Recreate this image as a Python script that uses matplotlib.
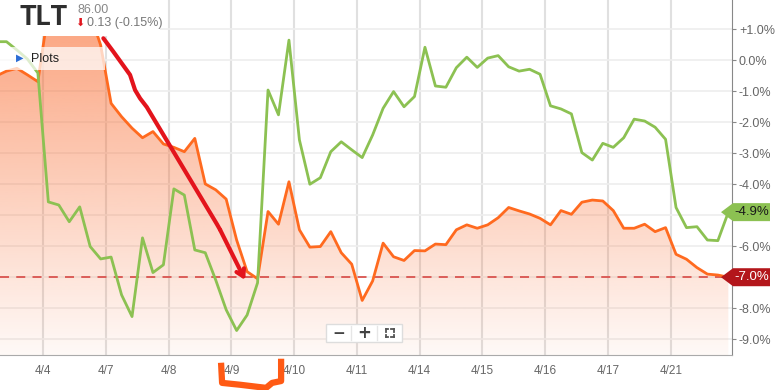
import numpy as np
import matplotlib
matplotlib.use('Agg')
import matplotlib.pyplot as plt
import matplotlib.transforms as mtransforms
from matplotlib.patches import Rectangle, Polygon
from matplotlib.lines import Line2D

plt.rcParams['font.family'] = ['Liberation Sans', 'DejaVu Sans']

# hourly closes in % change, 6 points per trading day (first 5 points = tail of 4/3)
green = [0.60, 0.60, 0.33, 0.04, -0.41,
         -4.57, -4.67, -5.21, -4.73, -6.01, -6.41,
         -6.35, -7.57, -8.27, -5.73, -6.85, -6.60,
         -4.15, -4.35, -6.12, -6.21, -7.09, -8.05,
         -8.72, -8.22, -7.18, -0.96, -1.76, 0.65,
         -2.57, -4.00, -3.79, -2.95, -2.63, -2.89,
         -3.14, -2.41, -1.55, -1.01, -1.50, -1.17,
         0.42, -0.83, -0.87, -0.24, 0.10, -0.23,
         0.07, 0.15, -0.21, -0.35, -0.29, -0.45,
         -1.47, -1.57, -1.73, -2.98, -3.22, -2.68,
         -2.81, -2.50, -1.90, -1.96, -2.16, -2.55,
         -4.75, -5.40, -5.37, -5.80, -5.82, -4.90]

orange = [-0.51, -0.35, -0.26, -0.47, -0.69,
          1.6, 1.8, 1.4, 1.0, 1.5, 0.49,
          -1.39, -1.82, -2.19, -2.50, -2.30, -2.70,
          -2.81, -2.95, -2.52, -3.99, -4.18, -4.48,
          -5.80, -6.82, -7.05, -4.88, -5.29, -3.92,
          -5.47, -6.03, -6.01, -5.53, -6.21, -6.58,
          -7.75, -7.12, -5.90, -6.34, -6.46, -6.14,
          -6.15, -5.93, -5.95, -5.47, -5.31, -5.42,
          -5.31, -5.08, -4.75, -4.86, -4.96, -5.10,
          -5.31, -4.85, -4.97, -4.58, -4.51, -4.54,
          -4.85, -5.42, -5.42, -5.29, -5.53, -5.40,
          -6.26, -6.42, -6.69, -6.90, -6.93, -7.00]

days = ['4/4', '4/7', '4/8', '4/9', '4/10', '4/11', '4/14', '4/15', '4/16', '4/17', '4/21']
y_ticks = [1, 0, -1, -2, -3, -4, -5, -6, -7, -8, -9]
hidden_ticks = [-5, -7]  # covered by the value badges

# hand drawn marks on the screenshot (data coords)
arrow_x = [5.26, 6.21, 7.81, 8.29, 8.77, 9.41, 16.10, 16.42, 18.81]
arrow_y = [0.71, 0.28, -0.47, -0.96, -1.23, -1.51, -5.28, -5.47, -7.09]
bracket_x = [16.51, 16.61, 18.33, 20.05, 20.82, 21.39, 22.25, 22.25]
bracket_y = [-9.76, -10.41, -10.47, -10.54, -10.57, -10.41, -10.35, -9.63]

W, H = 780, 390
ORANGE = '#ff6a1f'
GREEN = '#8cc152'

x = np.arange(len(green)) - 5
xmin, xmax = -4.62, 65.35
ymin, ymax = -9.51, 1.945

fig = plt.figure(figsize=(W / 100, H / 100), dpi=100)
ax = fig.add_axes([0, (H - 355) / H, 732 / W, 355 / H])

# gradient fill under the orange line
fill = ax.fill_between(x, orange, ymin, color='none', lw=0)
grad = np.zeros((256, 1, 4))
grad[..., :3] = matplotlib.colors.to_rgb('#f96a2e')
grad[:, 0, 3] = np.linspace(0.04, 0.64, 256)
im = ax.imshow(grad, extent=[xmin, xmax, ymin, ymax], origin='lower', aspect='auto', zorder=1)
im.set_clip_path(fill.get_paths()[0], transform=ax.transData)

ax.plot(x, orange, color=ORANGE, lw=2, zorder=3)
ax.plot(x, green, color=GREEN, lw=2, zorder=4)
ax.axhline(orange[-1], color='#d9534f', lw=1.3, ls=(0, (5, 4)), zorder=2)

# hand drawings
ax.plot(arrow_x[:-1], arrow_y[:-1], color='#e3141c', lw=3, solid_capstyle='round',
        solid_joinstyle='round', zorder=6)
ax.annotate('', xy=(arrow_x[-1], arrow_y[-1]), xytext=(arrow_x[-2], arrow_y[-2]),
            arrowprops=dict(arrowstyle='->,head_length=0.5,head_width=0.3', color='#e3141c',
                            lw=3, shrinkA=0, shrinkB=0), zorder=6)
ax.plot(bracket_x, bracket_y, color='#ff5a14', lw=4.5, clip_on=False,
        solid_joinstyle='round', solid_capstyle='butt', zorder=6)

ax.set_xlim(xmin, xmax)
ax.set_ylim(ymin, ymax)
ax.set_xticks([6 * k - 0.5 for k in range(len(days))])
ax.set_xticklabels(days)
ax.set_yticks(y_ticks)
ax.set_yticklabels(['' if v in hidden_ticks else ('+' if v > 0 else '') + f'{v:.1f}%'
                    for v in y_ticks])
ax.yaxis.tick_right()
ax.tick_params(axis='y', length=3, pad=2, colors='#888888', labelcolor='#666666', labelsize=9)
ax.tick_params(axis='x', length=0, pad=7, labelcolor='#666666', labelsize=8.5)
ax.grid(axis='x', color='#e0e0e0', lw=1.5)
ax.grid(axis='y', color='#eeeeee', lw=1.2)
ax.set_axisbelow(True)
for s in ['top', 'left']:
    ax.spines[s].set_visible(False)
ax.spines['right'].set_color('#888888')
ax.spines['bottom'].set_color('#aaaaaa')
ax.set_facecolor('white')

ident = mtransforms.IdentityTransform()


def P(px, py):
    return px, H - py


# header overlay
fig.add_artist(Rectangle(P(0, 36), 160, 36, transform=ident, facecolor='white',
                         edgecolor='none', zorder=10))
fig.text(*P(19, 17.5), 'TLT', transform=ident, fontsize=19.5, fontweight='bold', color='#2e2e2e',
         va='center', family='Roboto', zorder=11)
fig.text(*P(77, 10), '86.00', transform=ident, fontsize=9, color='#888888', va='center', zorder=11)
fig.text(*P(75, 23), '\u2b07', transform=ident, fontsize=8, color='#e0151d', va='center',
         family='DejaVu Sans', zorder=11)
fig.text(*P(87, 23), '0.13 (-0.15%)', transform=ident, fontsize=9, color='#777777',
         va='center', zorder=11)

fig.add_artist(Rectangle(P(0, 70), 105, 23, transform=ident, facecolor='white', alpha=0.72,
                         edgecolor='none', zorder=10))
fig.text(*P(16, 58), '\u25b6', transform=ident, fontsize=7, color='#2b6cd4', va='center',
         family='DejaVu Sans', zorder=11)
fig.text(*P(31, 59), 'Plots', transform=ident, fontsize=9, color='#222222', va='center', zorder=11)

# zoom control
fig.add_artist(Rectangle(P(326, 342), 76, 18, transform=ident, facecolor='white',
                         edgecolor='#dddddd', lw=1, zorder=10))
for dx in [351, 377]:
    fig.add_artist(Line2D([dx, dx], [H - 326, H - 340], transform=ident, color='#e6e6e6', lw=1, zorder=11))
fig.text(*P(338.5, 333), '\u2212', transform=ident, fontsize=11, fontweight='bold', color='#444444',
         ha='center', va='center', family='DejaVu Sans', zorder=11)
fig.text(*P(364, 333), '+', transform=ident, fontsize=12, fontweight='bold', color='#444444',
         ha='center', va='center', family='DejaVu Sans', zorder=11)
cx, cy, r, c = 389.5, 333, 4, 2.5
for sx in [-1, 1]:
    for sy in [-1, 1]:
        x0, y0 = cx + sx * r, cy + sy * r
        fig.add_artist(Line2D([x0, x0 - sx * c], [H - y0, H - y0], transform=ident,
                              color='#555555', lw=1.3, zorder=11))
        fig.add_artist(Line2D([x0, x0], [H - y0, H - (y0 - sy * c)], transform=ident,
                              color='#555555', lw=1.3, zorder=11))


# value badges on the right axis
def badge(val, face, tcolor):
    yd = ax.transData.transform((0, val))[1]
    pts = [(721, yd), (733, yd + 9), (770, yd + 9), (770, yd - 9), (733, yd - 9)]
    fig.add_artist(Polygon(pts, closed=True, transform=ident, facecolor=face,
                           edgecolor='none', zorder=12))
    fig.text(752, yd, f'{val:.1f}%', transform=ident, fontsize=9.5, color=tcolor,
             ha='center', va='center', zorder=13)


badge(green[-1], '#8cc152', '#1a1a1a')
badge(orange[-1], '#b3161b', 'white')

fig.savefig('out.png', dpi=100, facecolor='white')
